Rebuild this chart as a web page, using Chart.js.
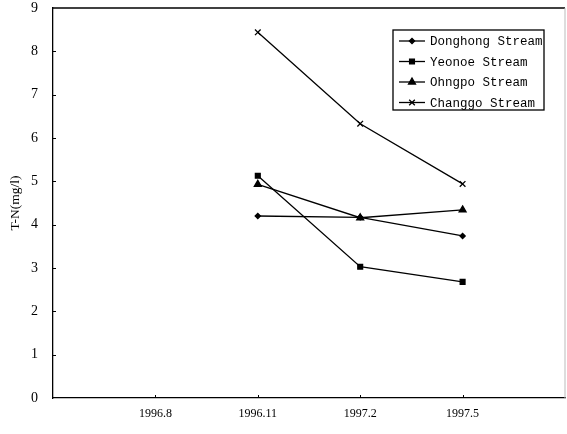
<!DOCTYPE html>
<html>
<head>
<meta charset="utf-8">
<script src="https://cdn.jsdelivr.net/npm/chart.js@4.4.1/dist/chart.umd.min.js"></script>
<style>
  html, body { margin: 0; padding: 0; background: #fff; }
  #wrap { width: 567px; height: 434px; }
</style>
</head>
<body>
<div id="wrap"><canvas id="tnChart" width="567" height="434"></canvas></div>
<script>
// sampling months (x tick labels) and T-N values per stream, mg/l
const months = ['1996.8', '1996.11', '1997.2', '1997.5'];
const donghong = [null, 4.20, 4.17, 3.74];
const yeonoe = [null, 5.13, 3.03, 2.68];
const ohngpo = [null, 4.93, 4.16, 4.34];
const changgo = [null, 8.44, 6.33, 4.94];

const seriesNames = ['Donghong Stream', 'Yeonoe Stream', 'Ohngpo Stream', 'Changgo Stream'];
const seriesValues = [donghong, yeonoe, ohngpo, changgo];
const markers = [
    { style: 'rectRot', radius: 2.6 },
    { style: 'rect', radius: 3.4 },
    { style: 'triangle', radius: 4 },
    { style: 'crossRot', radius: 4 }
];

function toPoints(values) {
    return values.map((v, i) => ({ x: i + 1, y: v })).filter(p => p.y !== null);
}

const datasets = seriesNames.map((name, i) => ({
    label: name,
    data: toPoints(seriesValues[i]),
    borderColor: '#000',
    backgroundColor: '#000',
    borderWidth: 1.3,
    pointStyle: markers[i].style,
    pointRadius: markers[i].radius,
    pointBorderWidth: 1.3,
    pointBorderColor: '#000',
    pointBackgroundColor: '#000',
    tension: 0
}));

// frame, inner tick marks and the boxed legend
const framePlugin = {
    id: 'frame',
    afterDraw(chart) {
        const ctx = chart.ctx;
        const a = chart.chartArea;
        const xs = chart.scales.x, ys = chart.scales.y;
        ctx.save();
        ctx.strokeStyle = '#000';
        ctx.lineWidth = 1.3;
        ctx.beginPath();
        ctx.moveTo(a.left, a.top);
        ctx.lineTo(a.right, a.top);
        ctx.stroke();
        ctx.strokeStyle = '#bbb';
        ctx.lineWidth = 1;
        ctx.beginPath();
        ctx.moveTo(a.right, a.top);
        ctx.lineTo(a.right, a.bottom);
        ctx.stroke();

        ctx.strokeStyle = '#000';
        ctx.lineWidth = 1;
        ctx.beginPath();
        for (let v = 1; v < 9; v++) {
            const y = Math.round(ys.getPixelForValue(v)) + 0.5;
            ctx.moveTo(a.left, y);
            ctx.lineTo(a.left + 3, y);
        }
        for (let i = 1; i <= months.length; i++) {
            const x = Math.round(xs.getPixelForValue(i)) + 0.5;
            ctx.moveTo(x, a.bottom);
            ctx.lineTo(x, a.bottom - 3);
        }
        ctx.stroke();

        // legend box
        const bx = 393, by = 30, bw = 151, bh = 80;
        ctx.lineWidth = 1.3;
        ctx.strokeRect(bx, by, bw, bh);
        ctx.font = '12.5px "Liberation Mono", monospace';
        ctx.fillStyle = '#000';
        ctx.textBaseline = 'middle';
        chart.data.datasets.forEach((ds, i) => {
            const y = by + 11 + i * 20.5;
            ctx.lineWidth = 1.3;
            ctx.beginPath();
            ctx.moveTo(bx + 6, y);
            ctx.lineTo(bx + 32, y);
            ctx.stroke();
            Chart.helpers.drawPoint(ctx, {
                pointStyle: ds.pointStyle,
                radius: ds.pointRadius,
                rotation: 0,
                borderWidth: 1.3
            }, bx + 19, y);
            ctx.fillText(ds.label, bx + 37, y + 1);
        });
        ctx.restore();
    }
};

new Chart(document.getElementById('tnChart'), {
    type: 'line',
    data: { datasets: datasets },
    options: {
        responsive: false,
        animation: false,
        layout: { autoPadding: false, padding: { top: 8, right: 2, left: 0, bottom: 0 } },
        plugins: {
            legend: { display: false },
            tooltip: { enabled: false }
        },
        scales: {
            x: {
                type: 'linear',
                min: 0,
                max: 5,
                afterFit(scale) {
                    scale.height = 36;
                    scale.paddingLeft = 0;
                    scale.paddingRight = 0;
                },
                afterBuildTicks(scale) {
                    scale.ticks = months.map((m, i) => ({ value: i + 1 }));
                },
                grid: { display: true, drawOnChartArea: false, drawTicks: false },
                border: { display: true, color: '#000', width: 1.3 },
                ticks: {
                    padding: 9,
                    color: '#000',
                    font: { family: '"Liberation Serif", serif', size: 12 },
                    callback: (v) => months[v - 1] || ''
                }
            },
            y: {
                min: 0,
                max: 9,
                afterFit(scale) {
                    scale.width = 53;
                    scale.paddingTop = 0;
                    scale.paddingBottom = 0;
                },
                grid: { display: true, drawOnChartArea: false, drawTicks: false },
                border: { display: true, color: '#000', width: 1.3 },
                ticks: {
                    stepSize: 1,
                    padding: 15,
                    color: '#000',
                    font: { family: '"Liberation Serif", serif', size: 14 }
                },
                title: {
                    display: true,
                    text: 'T-N(mg/l)',
                    color: '#000',
                    padding: { top: 7, bottom: 0 },
                    font: { family: '"Liberation Serif", serif', size: 13.5 }
                }
            }
        }
    },
    plugins: [framePlugin]
});
</script>
</body>
</html>
